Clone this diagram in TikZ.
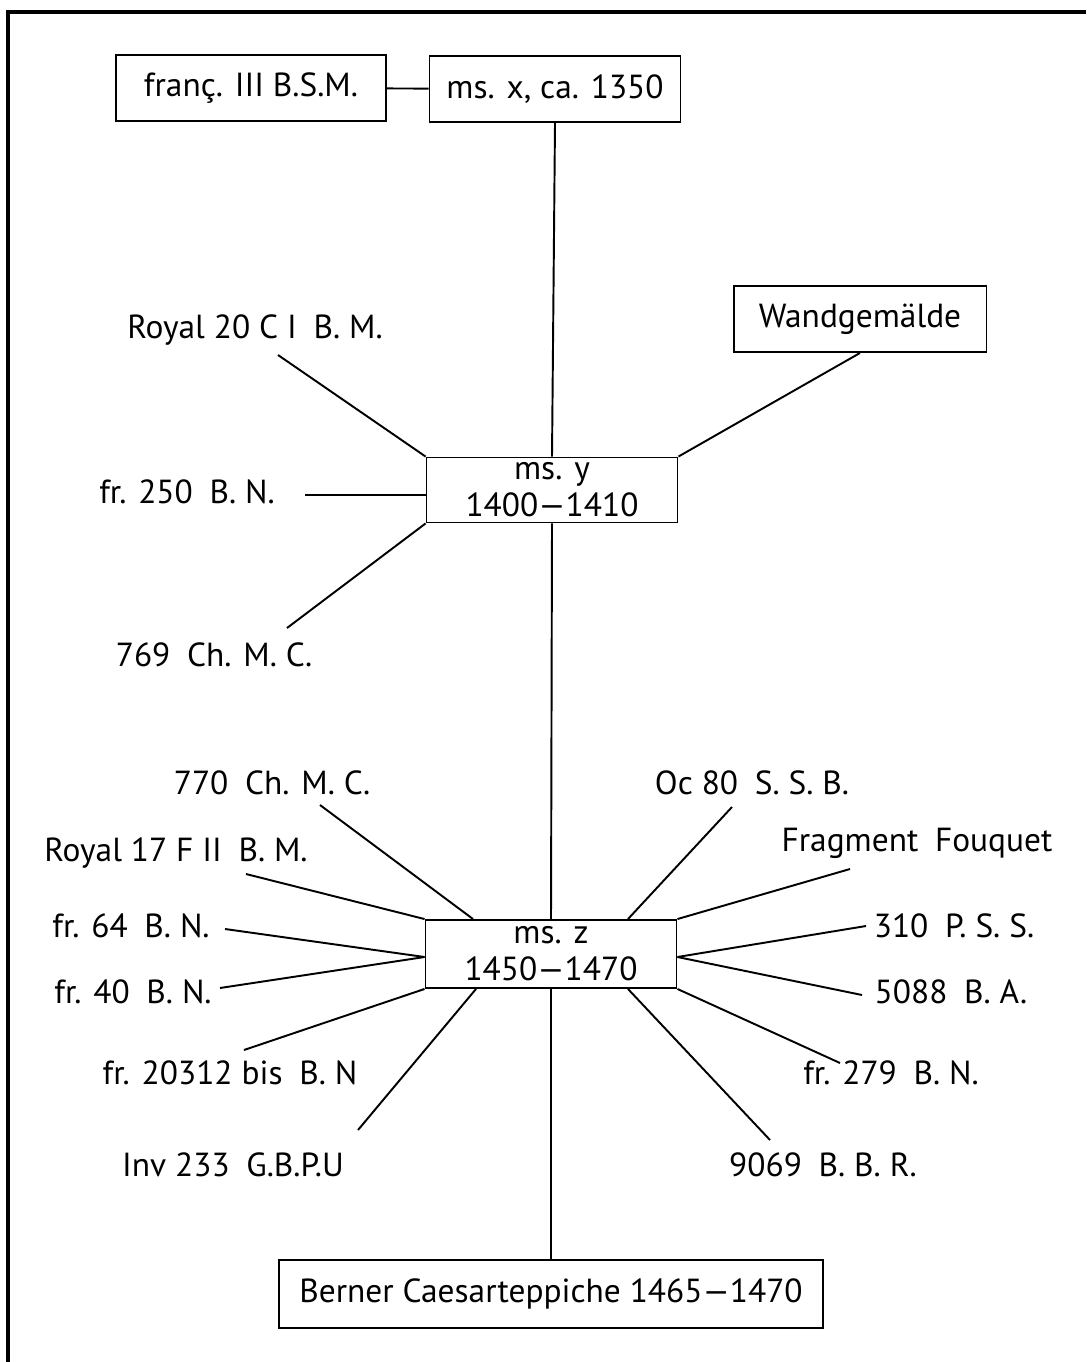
\documentclass[tikz,border=0pt]{standalone}
\usepackage{fontspec}
\setmainfont{PT Sans}
\usepackage{tikz}
\usetikzlibrary{positioning, calc}

\tikzset{
  msbox/.style={draw, line width=1.1pt, minimum width=5.02cm, minimum height=1.32cm,
    align=center, font=\fontsize{19}{21}\selectfont, inner sep=2pt},
  sig/.style={font=\fontsize{19}{21}\selectfont, inner sep=1pt},
  link/.style={line width=1.1pt}
}

\begin{document}
\begin{tikzpicture}[x=0.02cm, y=-0.02cm]
\useasboundingbox (0,0) rectangle (1086,1362);
% frame
\draw[line width=2.5pt] (8,1362) -- (8,12) -- (1086,12);

% boxes
\node[msbox, minimum width=5.4cm] (franc) at (251,88) {franç. III B.S.M.};
\node[msbox] (msx) at (555,89) {ms. x, ca. 1350};
\node[msbox, minimum width=5.06cm] (wand) at (860,319) {Wandgemälde};
\node[msbox, minimum height=1.3cm] (msy) at (552,490) {ms. y\\1400—1410};
\node[msbox, minimum height=1.36cm] (msz) at (551,954) {ms. z\\1450—1470};
\node[msbox, minimum width=10.88cm, minimum height=1.36cm] (berner) at (551,1294) {Berner Caesarteppiche 1465—1470};

% signatures round ms. y
\node[sig] (royal20) at (255,330) {Royal 20 C I\enspace B. M.};
\node[sig] (fr250) at (187,492) {fr. 250\enspace B. N.};
\node[sig] (ch769) at (214,655) {769\enspace Ch. M. C.};

% signatures round ms. z
\node[sig] (ch770) at (272,783) {770\enspace Ch. M. C.};
\node[sig] (royal17) at (176,853) {Royal 17 F II\enspace B. M.};
\node[sig] (fr64) at (131,926) {fr. 64\enspace B. N.};
\node[sig] (fr40) at (133,992) {fr. 40\enspace B. N.};
\node[sig] (fr20312) at (230,1073) {fr. 20312 bis\enspace B. N};
\node[sig] (inv233) at (233,1165) {Inv 233\enspace G.B.P.U};
\node[sig] (oc80) at (752,783) {Oc 80\enspace S. S. B.};
\node[sig] (fouquet) at (917,843) {Fragment\enspace Fouquet};
\node[sig] (pss310) at (954,926) {310\enspace P. S. S.};
\node[sig] (ba5088) at (951,992) {5088\enspace B. A.};
\node[sig] (fr279) at (891,1073) {fr. 279\enspace B. N.};
\node[sig] (bbr9069) at (823,1165) {9069\enspace B. B. R.};

% free ends of the lines
\coordinate (e20) at (278,355);
\coordinate (e250) at (305,495);
\coordinate (e769) at (287,628);
\coordinate (e770) at (320,805);
\coordinate (e17) at (246,874);
\coordinate (e64) at (225,929);
\coordinate (e40) at (220,988);
\coordinate (e20312) at (244,1050);
\coordinate (e233) at (358,1130);
\coordinate (e80) at (732,807);
\coordinate (efq) at (850,869);
\coordinate (e310) at (866,926);
\coordinate (e5088) at (862,995);
\coordinate (e279) at (840,1063);
\coordinate (e9069) at (770,1140);

% stem
\draw[link] (franc) -- (msx);
\draw[link] (msx.south) -- (msy.north);
\draw[link] (msy.south) -- (msz.north);
\draw[link] (msz.south) -- (berner.north);

% ms. y
\draw[link] (e20) -- (msy.north west);
\draw[link] (e250) -- (msy.west |- e250);
\draw[link] (e769) -- (msy.south west);
\draw[link] (wand.south) -- (msy.north east);

% ms. z
\draw[link] (e770) -- ([xshift=-1.56cm]msz.north);
\draw[link] (e17) -- (msz.north west);
\draw[link] (e64) -- ([yshift=-0.06cm]msz.west);
\draw[link] (e40) -- ([yshift=-0.06cm]msz.west);
\draw[link] (e20312) -- (msz.south west);
\draw[link] (e233) -- ([xshift=-1.5cm]msz.south);
\draw[link] (e80) -- ([xshift=1.54cm]msz.north);
\draw[link] (efq) -- (msz.north east);
\draw[link] (e310) -- ([yshift=-0.06cm]msz.east);
\draw[link] (e5088) -- ([yshift=-0.06cm]msz.east);
\draw[link] (e279) -- (msz.south east);
\draw[link] (e9069) -- ([xshift=1.54cm]msz.south);
\end{tikzpicture}
\end{document}
